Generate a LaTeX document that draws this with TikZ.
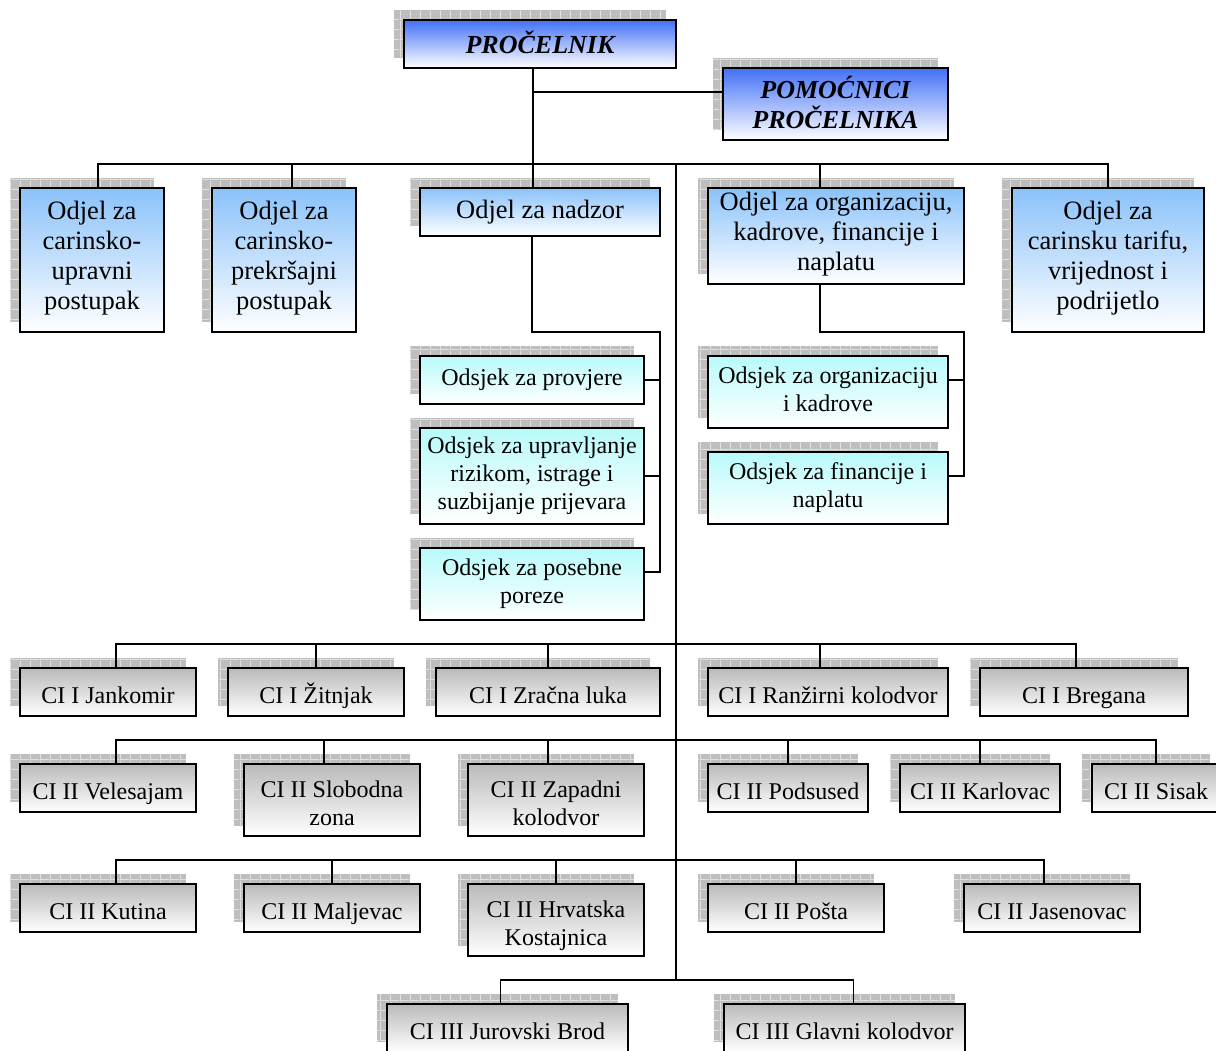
\documentclass[tikz,border=0pt]{standalone}
\usepackage{fontspec}
\setmainfont{Liberation Serif}
\usetikzlibrary{shadows,patterns}

% light grid laid over the grey drop shadows
\pgfdeclarepatternformonly{shadowgrid}{\pgfpointorigin}{\pgfpoint{10pt}{10pt}}{\pgfpoint{10pt}{10pt}}{%
  \pgfsetlinewidth{1pt}%
  \pgfpathmoveto{\pgfpoint{0pt}{0.5pt}}\pgfpathlineto{\pgfpoint{10pt}{0.5pt}}%
  \pgfpathmoveto{\pgfpoint{0.5pt}{0pt}}\pgfpathlineto{\pgfpoint{0.5pt}{10pt}}%
  \pgfusepath{stroke}}

\definecolor{headblue}{RGB}{66,112,246}
\definecolor{odjelblue}{RGB}{138,194,250}
\definecolor{odsjekcyan}{RGB}{184,250,250}
\definecolor{cigray}{RGB}{186,186,186}
\definecolor{shadowfill}{RGB}{190,190,190}
\definecolor{shadowline}{RGB}{224,224,224}

\tikzset{
  first line top/.store in=\orgtop,
  orgnode/.style={draw=black, line width=1.8pt, inner sep=2pt, align=center,
    bottom color=white, first line top=\strut,
    execute at end node=\strut,
    general shadow={fill=shadowfill, shadow xshift=-10pt, shadow yshift=10pt},
    general shadow={pattern=shadowgrid, pattern color=shadowline, shadow xshift=-10pt, shadow yshift=10pt}},
  headbox/.style={orgnode, top color=headblue, inner ysep=1pt,
    first line top={\rule{0pt}{28pt}},
    font=\fontsize{26}{30}\selectfont\bfseries\itshape},
  odjelbox/.style={orgnode, top color=odjelblue,
    first line top={\rule{0pt}{17pt}},
    font=\fontsize{26.5}{30}\selectfont},
  odsjekbox/.style={orgnode, top color=odsjekcyan, font=\fontsize{24}{28}\selectfont},
  cibox/.style={orgnode, top color=cigray, inner ysep=0pt,
    first line top={\rule{0pt}{32pt}},
    font=\fontsize{24}{28}\selectfont},
  link/.style={draw=black, line width=1.6pt}
}

% \orgbox{style}{name}{left}{top}{right}{bottom}{text}, measured downward from the top edge
\newcommand\orgbox[7]{%
  \pgfmathsetmacro\obW{#5-#3}\pgfmathsetmacro\obH{#6-#4}%
  \pgfmathsetmacro\obX{(#3+#5)/2}\pgfmathsetmacro\obY{-(#4+#6)/2}%
  \node[#1, minimum width=\obW, minimum height=\obH] (#2) at (\obX,\obY) {\orgtop#7};}

\begin{document}
\begin{tikzpicture}[x=1pt,y=1pt]
\useasboundingbox (0,0) rectangle (1216,-1050);
\fill[white] (0,0) rectangle (1216,-1050);
\clip (0,0) rectangle (1216,-1050);

% management
\orgbox{headbox}{pro}{404}{20}{676}{68}{PROČELNIK}
\orgbox{headbox}{pom}{723}{68}{948}{140}{POMOĆNICI\\PROČELNIKA}

% departments
\orgbox{odjelbox}{o1}{20}{188}{164}{332}{Odjel za\\carinsko-\\upravni\\postupak}
\orgbox{odjelbox}{o2}{212}{188}{356}{332}{Odjel za\\carinsko-\\prekršajni\\postupak}
\orgbox{odjelbox}{o3}{420}{188}{660}{236}{Odjel za nadzor}
\orgbox{odjelbox}{o4}{708}{188}{964}{284}{Odjel za organizaciju,\\kadrove, financije i\\naplatu}
\orgbox{odjelbox}{o5}{1012}{188}{1204}{332}{Odjel za\\carinsku tarifu,\\vrijednost i\\podrijetlo}

% sections
\orgbox{odsjekbox}{s1}{420}{356}{644}{404}{Odsjek za provjere}
\orgbox{odsjekbox}{s2}{420}{428}{644}{524}{Odsjek za upravljanje\\rizikom, istrage i\\suzbijanje prijevara}
\orgbox{odsjekbox}{s3}{420}{548}{644}{620}{Odsjek za posebne\\poreze}
\orgbox{odsjekbox}{s4}{708}{356}{948}{428}{Odsjek za organizaciju\\i kadrove}
\orgbox{odsjekbox}{s5}{708}{452}{948}{524}{Odsjek za financije i\\naplatu}

% customs offices, first row
\orgbox{cibox}{c11}{20}{668}{196}{716}{CI I Jankomir}
\orgbox{cibox}{c12}{228}{668}{404}{716}{CI I Žitnjak}
\orgbox{cibox}{c13}{436}{668}{660}{716}{CI I Zračna luka}
\orgbox{cibox}{c14}{708}{668}{948}{716}{CI I Ranžirni kolodvor}
\orgbox{cibox}{c15}{980}{668}{1188}{716}{CI I Bregana}

% second row
\orgbox{cibox}{c21}{20}{764}{196}{812}{CI II Velesajam}
\orgbox{cibox}{c22}{244}{764}{420}{836}{CI II Slobodna\\zona}
\orgbox{cibox}{c23}{468}{764}{644}{836}{CI II Zapadni\\kolodvor}
\orgbox{cibox}{c24}{708}{764}{868}{812}{CI II Podsused}
\orgbox{cibox}{c25}{900}{764}{1060}{812}{CI II Karlovac}
\orgbox{cibox}{c26}{1092}{764}{1220}{812}{CI II Sisak}

% third row
\orgbox{cibox}{c31}{20}{884}{196}{932}{CI II Kutina}
\orgbox{cibox}{c32}{244}{884}{420}{932}{CI II Maljevac}
\orgbox{cibox}{c33}{468}{884}{644}{956}{CI II Hrvatska\\Kostajnica}
\orgbox{cibox}{c34}{708}{884}{884}{932}{CI II Pošta}
\orgbox{cibox}{c35}{964}{884}{1140}{932}{CI II Jasenovac}

% fourth row
\orgbox{cibox}{c41}{387}{1004}{628}{1052}{CI III Jurovski Brod}
\orgbox{cibox}{c42}{724}{1004}{965}{1052}{CI III Glavni kolodvor}

% turning points of the connectors
\coordinate (trunktop) at (676,-165);
\coordinate (trunkbot) at (676,-981);
\coordinate (nzturn) at (660,-332);
\coordinate (nzend) at (660,-572);
\coordinate (orgturn) at (964,-332);
\coordinate (orgend) at (964,-476);

% head and assistants
\draw[link] ([xshift=-7]pro.south) -- ([xshift=-7]o3.north);
\draw[link] ([xshift=-7]pro.south) |- ([yshift=12]pom.west);

% department bus
\draw[link] ([xshift=6]o1.north) -- ++(0,23) -| (o5.north);
\draw[link] ([xshift=8]o2.north) -- ++(0,23);
\draw[link] ([xshift=-16]o4.north) -- ++(0,23);

% main trunk down to the customs offices
\draw[link] (trunktop) -- (trunkbot);

% sections under Odjel za nadzor
\draw[link] ([xshift=-8]o3.south) |- (nzturn) -- (nzend);
\draw[link] (s1.east) -- ++(16,0);
\draw[link] (s2.east) -- ++(16,0);
\draw[link] ([yshift=12]s3.east) -- ++(16,0);

% sections under Odjel za organizaciju
\draw[link] ([xshift=-16]o4.south) |- (orgturn) -- (orgend);
\draw[link] ([yshift=12]s4.east) -- ++(16,0);
\draw[link] ([yshift=12]s5.east) -- ++(16,0);

% first row of offices
\draw[link] ([xshift=8]c11.north) -- ++(0,23) -| ([xshift=-8]c15.north);
\draw[link] (c12.north) -- ++(0,23);
\draw[link] (c13.north) -- ++(0,23);
\draw[link] ([xshift=-8]c14.north) -- ++(0,23);

% second row
\draw[link] ([xshift=8]c21.north) -- ++(0,23) -| (c26.north);
\draw[link] ([xshift=-8]c22.north) -- ++(0,23);
\draw[link] ([xshift=-8]c23.north) -- ++(0,23);
\draw[link] (c24.north) -- ++(0,23);
\draw[link] (c25.north) -- ++(0,23);

% third row
\draw[link] ([xshift=8]c31.north) -- ++(0,23) -| ([xshift=-8]c35.north);
\draw[link] (c32.north) -- ++(0,23);
\draw[link] (c33.north) -- ++(0,23);
\draw[link] (c34.north) -- ++(0,23);

% fourth row
\draw[link] ([xshift=-7]c41.north) -- ++(0,23) -| ([xshift=9]c42.north);
\end{tikzpicture}
\end{document}
